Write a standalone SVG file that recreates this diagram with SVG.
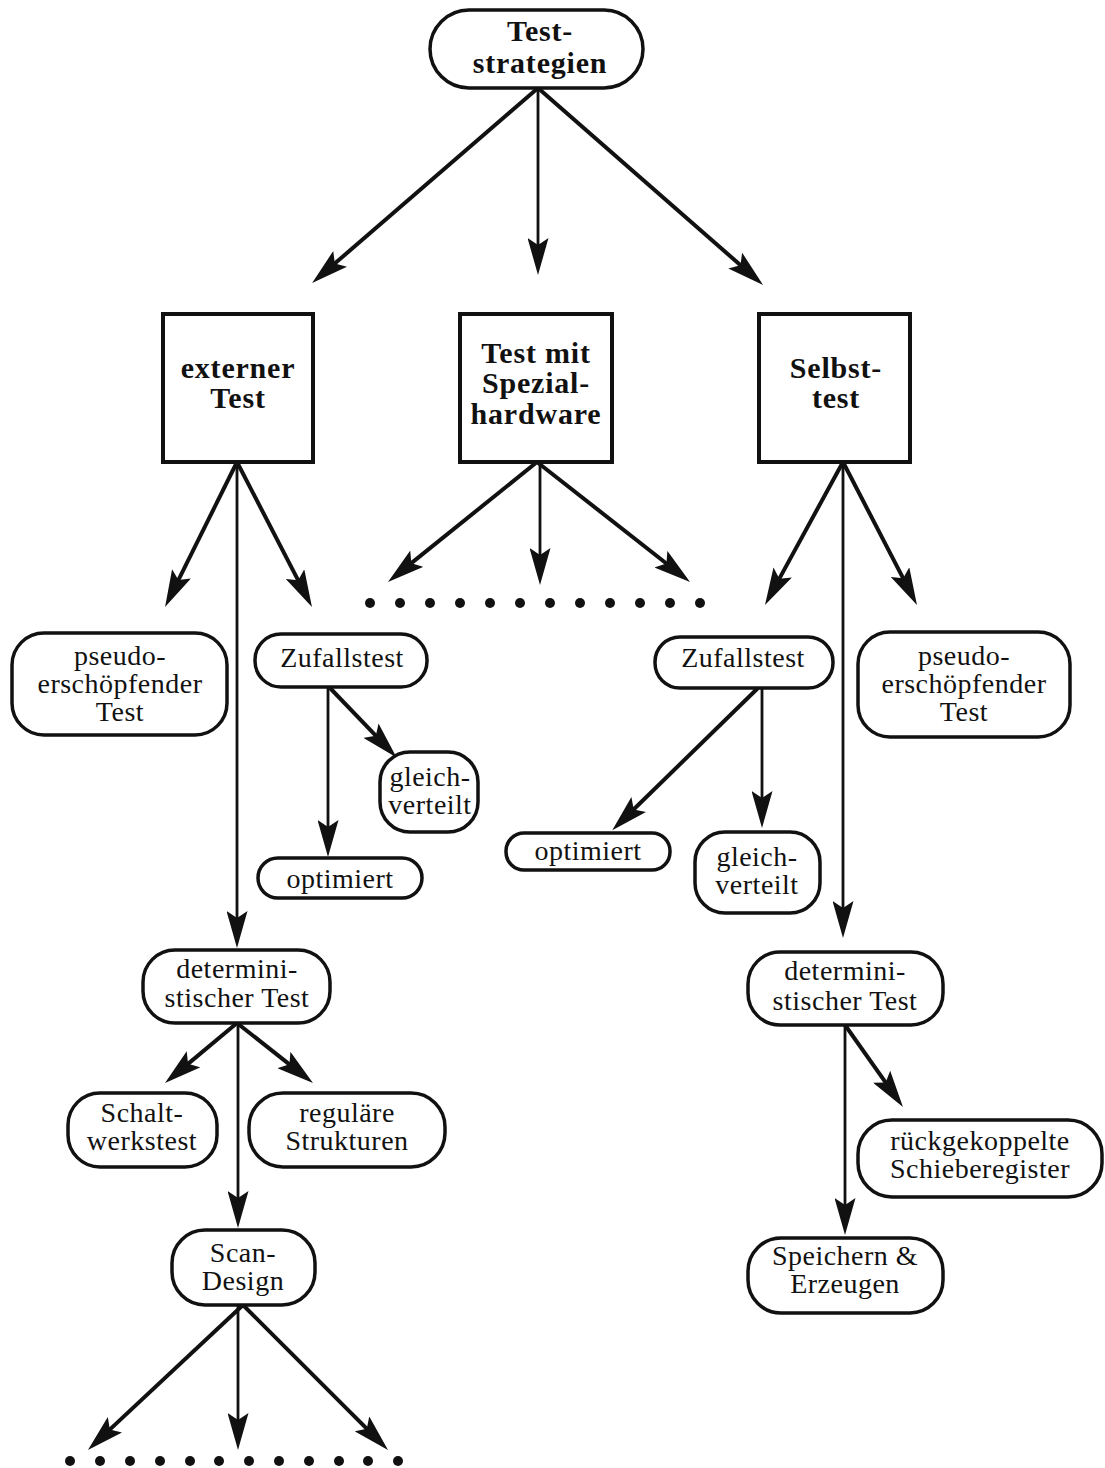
<svg xmlns="http://www.w3.org/2000/svg" width="1105" height="1468" viewBox="0 0 1105 1468">
  <style>
    .node { fill: #fff; stroke: #111; stroke-width: 3.5; }
    .box { fill: #fff; stroke: #111; stroke-width: 4; }
    .b { font-family: "Liberation Serif", "Times New Roman", serif; font-weight: bold; font-size: 30px; letter-spacing: 0.8px; fill: #111; text-anchor: middle; }
    .r { font-family: "Liberation Serif", "Times New Roman", serif; font-size: 28px; letter-spacing: 0.5px; fill: #111; text-anchor: middle; }
    .thick { stroke: #111; stroke-width: 4; fill: none; marker-end: url(#ah); }
    .thin { stroke: #111; stroke-width: 2.8; fill: none; marker-end: url(#ah); }
    .dot { fill: #111; }
  </style>
  <defs>
    <marker id="ah" markerUnits="userSpaceOnUse" markerWidth="38" markerHeight="21" viewBox="0 0 38 21" refX="9" refY="10.5" orient="auto">
      <path d="M0,0 L37,10.5 L0,21 L7,10.5 Z" fill="#111"/>
    </marker>
  </defs>
  <rect width="1105" height="1468" fill="#fff"/>

  <!-- connectors -->
  <g id="connectors">
    <line class="thick" x1="538" y1="88" x2="333.3" y2="264.8"/>
    <line class="thin" x1="538" y1="88" x2="538" y2="247"/>
    <line class="thick" x1="538" y1="88" x2="742" y2="266.5"/>

    <line class="thick" x1="237" y1="462" x2="177.5" y2="581.9"/>
    <line class="thick" x1="237" y1="462" x2="299.1" y2="582.1"/>
    <line class="thin" x1="237" y1="462" x2="237" y2="920"/>

    <line class="thick" x1="537" y1="462" x2="409.8" y2="564.4"/>
    <line class="thin" x1="540" y1="462" x2="540" y2="557"/>
    <line class="thick" x1="537" y1="462" x2="668" y2="564.7"/>

    <line class="thick" x1="843" y1="462" x2="778.4" y2="580.4"/>
    <line class="thick" x1="843" y1="462" x2="904.1" y2="580.1"/>
    <line class="thin" x1="843" y1="462" x2="843" y2="910"/>

    <line class="thin" x1="328" y1="687" x2="328" y2="829"/>
    <line class="thick" x1="330" y1="688" x2="377.2" y2="737.2"/>

    <line class="thick" x1="758" y1="688" x2="632.3" y2="810.8"/>
    <line class="thin" x1="762" y1="688" x2="762" y2="800"/>

    <line class="thick" x1="237" y1="1023" x2="186.5" y2="1065.1"/>
    <line class="thick" x1="237" y1="1023" x2="291" y2="1065.6"/>
    <line class="thin" x1="238" y1="1023" x2="238" y2="1200"/>

    <line class="thick" x1="243" y1="1305" x2="108.4" y2="1430.9"/>
    <line class="thin" x1="238" y1="1305" x2="238" y2="1422"/>
    <line class="thick" x1="243" y1="1305" x2="368.2" y2="1430.2"/>

    <line class="thick" x1="845" y1="1025" x2="886.8" y2="1084.1"/>
    <line class="thin" x1="845" y1="1025" x2="845" y2="1207"/>
  </g>

  <!-- continuation dots -->
  <g id="dots-middle">
    <circle class="dot" cx="370" cy="603" r="5"/>
    <circle class="dot" cx="400" cy="603" r="5"/>
    <circle class="dot" cx="430" cy="603" r="5"/>
    <circle class="dot" cx="460" cy="603" r="5"/>
    <circle class="dot" cx="490" cy="603" r="5"/>
    <circle class="dot" cx="520" cy="603" r="5"/>
    <circle class="dot" cx="550" cy="603" r="5"/>
    <circle class="dot" cx="580" cy="603" r="5"/>
    <circle class="dot" cx="610" cy="603" r="5"/>
    <circle class="dot" cx="640" cy="603" r="5"/>
    <circle class="dot" cx="670" cy="603" r="5"/>
    <circle class="dot" cx="700" cy="603" r="5"/>
  </g>
  <g id="dots-bottom">
    <circle class="dot" cx="70" cy="1461" r="5"/>
    <circle class="dot" cx="100" cy="1461" r="5"/>
    <circle class="dot" cx="130" cy="1461" r="5"/>
    <circle class="dot" cx="160" cy="1461" r="5"/>
    <circle class="dot" cx="190" cy="1461" r="5"/>
    <circle class="dot" cx="219" cy="1461" r="5"/>
    <circle class="dot" cx="249" cy="1461" r="5"/>
    <circle class="dot" cx="279" cy="1461" r="5"/>
    <circle class="dot" cx="309" cy="1461" r="5"/>
    <circle class="dot" cx="339" cy="1461" r="5"/>
    <circle class="dot" cx="368" cy="1461" r="5"/>
    <circle class="dot" cx="398" cy="1461" r="5"/>
  </g>

  <!-- nodes -->
  <g id="teststrategien">
    <rect class="node" x="430" y="10" width="213" height="78" rx="39"/>
    <text class="b" x="540" y="41">Test-</text>
    <text class="b" x="540" y="73">strategien</text>
  </g>
  <g id="externer-test">
    <rect class="box" x="163" y="314" width="150" height="148"/>
    <text class="b" x="238" y="378">externer</text>
    <text class="b" x="238" y="408">Test</text>
  </g>
  <g id="spezialhardware">
    <rect class="box" x="460" y="314" width="152" height="148"/>
    <text class="b" x="536" y="363">Test mit</text>
    <text class="b" x="536" y="393">Spezial-</text>
    <text class="b" x="536" y="424">hardware</text>
  </g>
  <g id="selbsttest">
    <rect class="box" x="759" y="314" width="151" height="148"/>
    <text class="b" x="836" y="378">Selbst-</text>
    <text class="b" x="836" y="408">test</text>
  </g>

  <g id="pseudo-links">
    <rect class="node" x="12" y="633" width="215" height="102" rx="32"/>
    <text class="r" x="120" y="665">pseudo-</text>
    <text class="r" x="120" y="693">erschöpfender</text>
    <text class="r" x="120" y="721">Test</text>
  </g>
  <g id="zufall-links">
    <rect class="node" x="255" y="634" width="172" height="53" rx="26"/>
    <text class="r" x="342" y="667">Zufallstest</text>
  </g>
  <g id="gleich-links">
    <rect class="node" x="380" y="752" width="98" height="80" rx="30"/>
    <text class="r" x="430" y="786">gleich-</text>
    <text class="r" x="430" y="814">verteilt</text>
  </g>
  <g id="optimiert-links">
    <rect class="node" x="258" y="858" width="164" height="40" rx="20"/>
    <text class="r" x="340" y="888">optimiert</text>
  </g>

  <g id="zufall-rechts">
    <rect class="node" x="655" y="637" width="178" height="51" rx="25"/>
    <text class="r" x="743" y="667">Zufallstest</text>
  </g>
  <g id="pseudo-rechts">
    <rect class="node" x="858" y="632" width="212" height="105" rx="32"/>
    <text class="r" x="964" y="665">pseudo-</text>
    <text class="r" x="964" y="693">erschöpfender</text>
    <text class="r" x="964" y="721">Test</text>
  </g>
  <g id="optimiert-rechts">
    <rect class="node" x="506" y="833" width="164" height="37" rx="18"/>
    <text class="r" x="588" y="860">optimiert</text>
  </g>
  <g id="gleich-rechts">
    <rect class="node" x="695" y="832" width="125" height="81" rx="30"/>
    <text class="r" x="757" y="866">gleich-</text>
    <text class="r" x="757" y="894">verteilt</text>
  </g>

  <g id="determ-links">
    <rect class="node" x="143" y="950" width="187" height="73" rx="32"/>
    <text class="r" x="237" y="978">determini-</text>
    <text class="r" x="237" y="1007">stischer Test</text>
  </g>
  <g id="schaltwerkstest">
    <rect class="node" x="68" y="1093" width="149" height="74" rx="32"/>
    <text class="r" x="142" y="1122">Schalt-</text>
    <text class="r" x="142" y="1150">werkstest</text>
  </g>
  <g id="regulaere-strukturen">
    <rect class="node" x="249" y="1093" width="196" height="74" rx="34"/>
    <text class="r" x="347" y="1122">reguläre</text>
    <text class="r" x="347" y="1150">Strukturen</text>
  </g>
  <g id="scan-design">
    <rect class="node" x="172" y="1230" width="143" height="75" rx="33"/>
    <text class="r" x="243" y="1262">Scan-</text>
    <text class="r" x="243" y="1290">Design</text>
  </g>

  <g id="determ-rechts">
    <rect class="node" x="748" y="952" width="195" height="73" rx="32"/>
    <text class="r" x="845" y="980">determini-</text>
    <text class="r" x="845" y="1010">stischer Test</text>
  </g>
  <g id="schieberegister">
    <rect class="node" x="858" y="1120" width="244" height="77" rx="34"/>
    <text class="r" x="980" y="1150">rückgekoppelte</text>
    <text class="r" x="980" y="1178">Schieberegister</text>
  </g>
  <g id="speichern-erzeugen">
    <rect class="node" x="748" y="1238" width="195" height="75" rx="33"/>
    <text class="r" x="845" y="1265">Speichern &amp;</text>
    <text class="r" x="845" y="1293">Erzeugen</text>
  </g>
</svg>
